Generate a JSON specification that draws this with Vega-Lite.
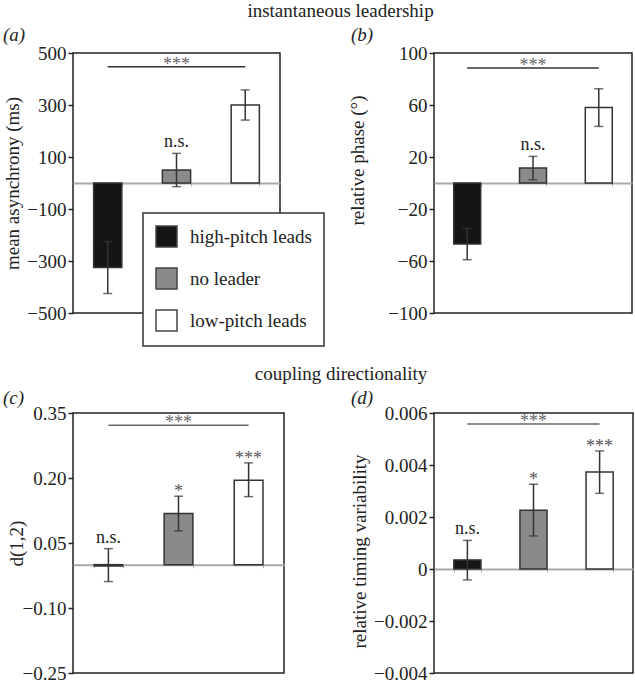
{
  "$schema": "https://vega.github.io/schema/vega-lite/v6.json",
  "padding": {"left": 2, "top": 2, "right": 0, "bottom": 0},
  "config": {
    "font": "Liberation Serif",
    "view": {"stroke": "#222", "strokeWidth": 1.5},
    "axisY": {"labelFont": "Liberation Serif", "labelFontSize": 19, "labelColor": "#222", "tickColor": "#222", "tickSize": 5, "tickWidth": 1.5, "labelPadding": 2, "domain": false, "grid": false, "titleFont": "Liberation Serif", "titleFontSize": 19, "titleFontWeight": "normal", "titleColor": "#222"},
    "axisX": {"labels": false, "title": null, "grid": false, "domainColor": "#aaa", "domainWidth": 2, "tickColor": "#aaa", "tickSize": 3, "tickBand": "extent"},
    "title": {"font": "Liberation Serif", "fontWeight": "normal", "color": "#222"}
  },
  "spacing": 360,
  "bounds": "flush",
  "resolve": {"scale": {"color": "independent"}, "legend": {"color": "independent"}},
  "vconcat": [
    {
      "title": {"text": "instantaneous leadership", "anchor": "middle", "fontSize": 19, "dx": 23, "offset": 4},
      "bounds": "flush",
      "spacing": 154,
      "resolve": {"scale": {"color": "independent"}, "legend": {"color": "independent"}},
      "hconcat": [
        {
          "width": 207, "height": 260,
          "title": {"text": "(a)", "anchor": "start", "frame": "group", "dx": -70, "fontSize": 19, "fontStyle": "italic", "offset": -1},
          "data": {"values": [
            {"cond": "high-pitch leads", "mean": -325, "lo": -425, "hi": -225, "sig": ""},
            {"cond": "no leader", "mean": 50, "lo": -14, "hi": 114, "sig": "n.s."},
            {"cond": "low-pitch leads", "mean": 300, "lo": 242, "hi": 358, "sig": ""}
          ]},
          "encoding": {"x": {"field": "cond", "type": "nominal", "scale": {"domain": ["high-pitch leads", "no leader", "low-pitch leads"], "paddingInner": 0.59, "paddingOuter": 0.3}, "axis": {"offset": -130}}},
          "layer": [
            {"mark": {"type": "bar", "stroke": "#333", "strokeWidth": 1.5},
             "encoding": {
               "y": {"field": "mean", "type": "quantitative", "title": "mean asynchrony (ms)", "scale": {"domain": [-500, 500]}, "axis": {"values": [500, 300, 100, -100, -300, -500], "format": "d", "titlePadding": 4}},
               "color": {"field": "cond", "type": "nominal", "scale": {"domain": ["high-pitch leads", "no leader", "low-pitch leads"], "range": ["#151515", "#8a8a8a", "#ffffff"]},
                 "legend": {"orient": "none", "legendX": 70, "legendY": 160, "title": null, "direction": "vertical", "fillColor": "white", "strokeColor": "#333", "padding": 12, "symbolType": "square", "symbolSize": 441, "symbolStrokeColor": "#444", "symbolStrokeWidth": 1.5, "labelFont": "Liberation Serif", "labelFontSize": 19, "labelColor": "#222", "labelOffset": 12, "rowPadding": 15, "zindex": 1,
                   "encode": {"legend": {"update": {"strokeWidth": {"value": 1.5}}}}}}
             }},
            {"mark": {"type": "errorbar", "ticks": true, "size": 9, "thickness": 1.5, "color": "#333"},
             "encoding": {"y": {"field": "lo", "type": "quantitative", "title": "mean asynchrony (ms)"}, "y2": {"field": "hi"}}},
            {"mark": {"type": "text", "fontSize": 18, "color": "#222", "baseline": "alphabetic", "dy": -6},
             "encoding": {"y": {"field": "hi", "type": "quantitative", "title": "mean asynchrony (ms)"}, "text": {"field": "sig"}}},
            {"data": {"values": [{"from": "high-pitch leads", "to": "low-pitch leads", "mid": "no leader", "y": 447, "label": "***"}]},
             "layer": [
               {"mark": {"type": "rule", "color": "#333", "strokeWidth": 1.5}, "encoding": {"x": {"field": "from", "type": "nominal", "scale": {"domain": ["high-pitch leads", "no leader", "low-pitch leads"]}}, "x2": {"field": "to"}, "y": {"field": "y", "type": "quantitative", "title": "mean asynchrony (ms)"}}},
               {"mark": {"type": "text", "fontSize": 18, "color": "#666", "baseline": "alphabetic", "dy": 3}, "encoding": {"x": {"field": "mid", "type": "nominal", "scale": {"domain": ["high-pitch leads", "no leader", "low-pitch leads"]}}, "y": {"field": "y", "type": "quantitative", "title": "mean asynchrony (ms)"}, "text": {"field": "label"}}}
             ]}
          ]
        },
        {
          "width": 198, "height": 260,
          "title": {"text": "(b)", "anchor": "start", "frame": "group", "dx": -83, "fontSize": 19, "fontStyle": "italic", "offset": -1},
          "data": {"values": [
            {"cond": "high-pitch leads", "mean": -47, "lo": -59, "hi": -35, "sig": ""},
            {"cond": "no leader", "mean": 11.5, "lo": 2.5, "hi": 20.5, "sig": "n.s."},
            {"cond": "low-pitch leads", "mean": 58, "lo": 43.5, "hi": 72.5, "sig": ""}
          ]},
          "encoding": {"x": {"field": "cond", "type": "nominal", "scale": {"domain": ["high-pitch leads", "no leader", "low-pitch leads"], "paddingInner": 0.59, "paddingOuter": 0.3}, "axis": {"offset": -130}}},
          "layer": [
            {"mark": {"type": "bar", "stroke": "#333", "strokeWidth": 1.5},
             "encoding": {
               "y": {"field": "mean", "type": "quantitative", "title": "relative phase (°)", "scale": {"domain": [-100, 100]}, "axis": {"values": [100, 60, 20, -20, -60, -100], "format": "d", "titlePadding": 20, "titleY": 107}},
               "color": {"field": "cond", "type": "nominal", "scale": {"domain": ["high-pitch leads", "no leader", "low-pitch leads"], "range": ["#151515", "#8a8a8a", "#ffffff"]}, "legend": null}
             }},
            {"mark": {"type": "errorbar", "ticks": true, "size": 9, "thickness": 1.5, "color": "#333"},
             "encoding": {"y": {"field": "lo", "type": "quantitative", "title": "relative phase (°)"}, "y2": {"field": "hi"}}},
            {"mark": {"type": "text", "fontSize": 18, "color": "#222", "baseline": "alphabetic", "dy": -6},
             "encoding": {"y": {"field": "hi", "type": "quantitative", "title": "relative phase (°)"}, "text": {"field": "sig"}}},
            {"data": {"values": [{"from": "high-pitch leads", "to": "low-pitch leads", "mid": "no leader", "y": 88.5, "label": "***"}]},
             "layer": [
               {"mark": {"type": "rule", "color": "#333", "strokeWidth": 1.5}, "encoding": {"x": {"field": "from", "type": "nominal", "scale": {"domain": ["high-pitch leads", "no leader", "low-pitch leads"]}}, "x2": {"field": "to"}, "y": {"field": "y", "type": "quantitative", "title": "relative phase (°)"}}},
               {"mark": {"type": "text", "fontSize": 18, "color": "#666", "baseline": "alphabetic", "dy": 3}, "encoding": {"x": {"field": "mid", "type": "nominal", "scale": {"domain": ["high-pitch leads", "no leader", "low-pitch leads"]}}, "y": {"field": "y", "type": "quantitative", "title": "relative phase (°)"}, "text": {"field": "label"}}}
             ]}
          ]
        }
      ]
    },
    {
      "title": {"text": "coupling directionality", "anchor": "middle", "fontSize": 19, "dx": 23, "offset": 4},
      "bounds": "flush",
      "spacing": 150,
      "resolve": {"scale": {"color": "independent"}, "legend": {"color": "independent"}},
      "hconcat": [
        {
          "width": 211, "height": 260,
          "title": {"text": "(c)", "anchor": "start", "frame": "group", "dx": -70, "dy": 3, "fontSize": 19, "fontStyle": "italic", "offset": -1},
          "data": {"values": [
            {"cond": "high-pitch leads", "mean": -0.003, "lo": -0.039, "hi": 0.037, "sig": "n.s."},
            {"cond": "no leader", "mean": 0.118, "lo": 0.078, "hi": 0.158, "sig": "*"},
            {"cond": "low-pitch leads", "mean": 0.195, "lo": 0.157, "hi": 0.235, "sig": "***"}
          ]},
          "encoding": {"x": {"field": "cond", "type": "nominal", "scale": {"domain": ["high-pitch leads", "no leader", "low-pitch leads"], "paddingInner": 0.59, "paddingOuter": 0.3}, "axis": {"offset": -108.3}}},
          "layer": [
            {"mark": {"type": "bar", "stroke": "#333", "strokeWidth": 1.5},
             "encoding": {
               "y": {"field": "mean", "type": "quantitative", "title": "d(1,2)", "scale": {"domain": [-0.25, 0.35]}, "axis": {"values": [0.35, 0.2, 0.05, -0.1, -0.25], "format": ".2f", "titlePadding": -4}},
               "color": {"field": "cond", "type": "nominal", "scale": {"domain": ["high-pitch leads", "no leader", "low-pitch leads"], "range": ["#151515", "#8a8a8a", "#ffffff"]}, "legend": null}
             }},
            {"mark": {"type": "errorbar", "ticks": true, "size": 9, "thickness": 1.5, "color": "#333"},
             "encoding": {"y": {"field": "lo", "type": "quantitative", "title": "d(1,2)"}, "y2": {"field": "hi"}}},
            {"transform": [{"filter": "datum.sig == 'n.s.'"}],
             "mark": {"type": "text", "fontSize": 18, "color": "#222", "baseline": "alphabetic", "dy": -6},
             "encoding": {"y": {"field": "hi", "type": "quantitative", "title": "d(1,2)"}, "text": {"field": "sig"}}},
            {"transform": [{"filter": "datum.sig != 'n.s.'"}],
             "mark": {"type": "text", "fontSize": 18, "color": "#555", "baseline": "alphabetic", "dy": 1},
             "encoding": {"y": {"field": "hi", "type": "quantitative", "title": "d(1,2)"}, "text": {"field": "sig"}}},
            {"data": {"values": [{"from": "high-pitch leads", "to": "low-pitch leads", "mid": "no leader", "y": 0.322, "label": "***"}]},
             "layer": [
               {"mark": {"type": "rule", "color": "#666", "strokeWidth": 1.5}, "encoding": {"x": {"field": "from", "type": "nominal", "scale": {"domain": ["high-pitch leads", "no leader", "low-pitch leads"]}}, "x2": {"field": "to"}, "y": {"field": "y", "type": "quantitative", "title": "d(1,2)"}}},
               {"mark": {"type": "text", "fontSize": 18, "color": "#666", "baseline": "alphabetic", "dy": 3}, "encoding": {"x": {"field": "mid", "type": "nominal", "scale": {"domain": ["high-pitch leads", "no leader", "low-pitch leads"]}}, "y": {"field": "y", "type": "quantitative", "title": "d(1,2)"}, "text": {"field": "label"}}}
             ]}
          ]
        },
        {
          "width": 199, "height": 260,
          "title": {"text": "(d)", "anchor": "start", "frame": "group", "dx": -83, "dy": 3, "fontSize": 19, "fontStyle": "italic", "offset": -1},
          "data": {"values": [
            {"cond": "high-pitch leads", "mean": 0.00035, "lo": -0.00042, "hi": 0.0011, "sig": "n.s."},
            {"cond": "no leader", "mean": 0.00226, "lo": 0.00127, "hi": 0.00326, "sig": "*"},
            {"cond": "low-pitch leads", "mean": 0.00373, "lo": 0.00291, "hi": 0.00454, "sig": "***"}
          ]},
          "encoding": {"x": {"field": "cond", "type": "nominal", "scale": {"domain": ["high-pitch leads", "no leader", "low-pitch leads"], "paddingInner": 0.59, "paddingOuter": 0.3}, "axis": {"offset": -104}}},
          "layer": [
            {"mark": {"type": "bar", "stroke": "#333", "strokeWidth": 1.5},
             "encoding": {
               "y": {"field": "mean", "type": "quantitative", "title": "relative timing variability", "scale": {"domain": [-0.004, 0.006]}, "axis": {"values": [0.006, 0.004, 0.002, 0, -0.002, -0.004], "labelExpr": "datum.value == 0 ? '0' : format(datum.value, '.3f')", "titlePadding": 4, "titleY": 138}},
               "color": {"field": "cond", "type": "nominal", "scale": {"domain": ["high-pitch leads", "no leader", "low-pitch leads"], "range": ["#151515", "#8a8a8a", "#ffffff"]}, "legend": null}
             }},
            {"mark": {"type": "errorbar", "ticks": true, "size": 9, "thickness": 1.5, "color": "#333"},
             "encoding": {"y": {"field": "lo", "type": "quantitative", "title": "relative timing variability"}, "y2": {"field": "hi"}}},
            {"transform": [{"filter": "datum.sig == 'n.s.'"}],
             "mark": {"type": "text", "fontSize": 18, "color": "#222", "baseline": "alphabetic", "dy": -6},
             "encoding": {"y": {"field": "hi", "type": "quantitative", "title": "relative timing variability"}, "text": {"field": "sig"}}},
            {"transform": [{"filter": "datum.sig != 'n.s.'"}],
             "mark": {"type": "text", "fontSize": 18, "color": "#555", "baseline": "alphabetic", "dy": 1},
             "encoding": {"y": {"field": "hi", "type": "quantitative", "title": "relative timing variability"}, "text": {"field": "sig"}}},
            {"data": {"values": [{"from": "high-pitch leads", "to": "low-pitch leads", "mid": "no leader", "y": 0.00558, "label": "***"}]},
             "layer": [
               {"mark": {"type": "rule", "color": "#666", "strokeWidth": 1.5}, "encoding": {"x": {"field": "from", "type": "nominal", "scale": {"domain": ["high-pitch leads", "no leader", "low-pitch leads"]}}, "x2": {"field": "to"}, "y": {"field": "y", "type": "quantitative", "title": "relative timing variability"}}},
               {"mark": {"type": "text", "fontSize": 18, "color": "#666", "baseline": "alphabetic", "dy": 3}, "encoding": {"x": {"field": "mid", "type": "nominal", "scale": {"domain": ["high-pitch leads", "no leader", "low-pitch leads"]}}, "y": {"field": "y", "type": "quantitative", "title": "relative timing variability"}, "text": {"field": "label"}}}
             ]}
          ]
        }
      ]
    }
  ]
}
